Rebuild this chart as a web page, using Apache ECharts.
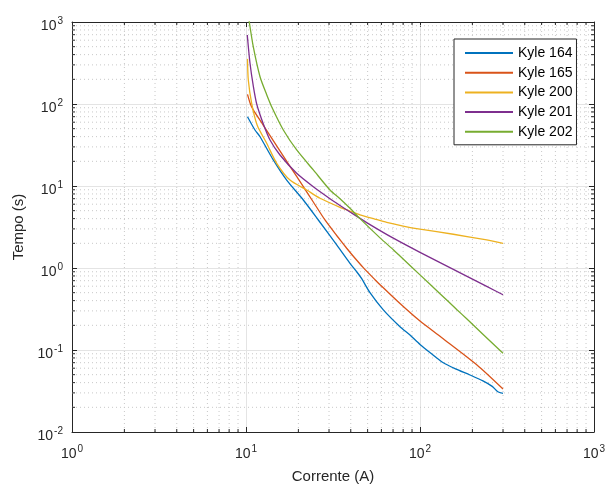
<!DOCTYPE html>
<html>
<head>
<meta charset="utf-8">
<script src="https://cdn.jsdelivr.net/npm/echarts@6/dist/echarts.min.js"></script>
<style>html,body{margin:0;padding:0;background:#fff}#c{width:609px;height:488px}</style>
</head>
<body>
<div id="c"></div>
<script>
// ---- data ----
const seriesNames = ['Kyle 164', 'Kyle 165', 'Kyle 200', 'Kyle 201', 'Kyle 202'];

const x164 = [10.2, 11.26, 12.04, 14.35, 17.13, 21.35, 26.04, 33.21, 39.6, 43.27, 46.24, 51.59, 61.54, 76.74, 87.61, 100, 115, 136.1, 160, 193.8, 230, 260, 280, 300];
const y164 = [70, 48.2, 39.9, 20.8, 11.8, 6.75, 3.85, 1.91, 1.14, 0.9, 0.74, 0.5, 0.308, 0.192, 0.152, 0.117, 0.092, 0.07, 0.059, 0.0496, 0.042, 0.036, 0.031, 0.0296];

const x165 = [10.2, 10.6, 11.01, 12.58, 15.01, 17.9, 21.35, 24.37, 28.44, 33.21, 37.91, 41.37, 47.22, 55.12, 58.91, 76.74, 100, 133, 211.8, 300];
const y165 = [131, 100, 84.6, 55, 30.9, 17.4, 9.84, 6.38, 3.85, 2.49, 1.74, 1.39, 1.01, 0.72, 0.626, 0.368, 0.225, 0.142, 0.066, 0.0334];

const x200 = [10.2, 10.31, 10.78, 11.6, 13.15, 15.01, 17.9, 22.33, 26.63, 34.69, 39.6, 45.21, 55, 64.38, 80, 100, 155.4, 241.7, 300];
const y200 = [355, 196, 102, 55, 33.2, 18.9, 11.8, 8.93, 7.08, 5.5, 4.95, 4.45, 3.95, 3.6, 3.25, 2.98, 2.58, 2.2, 2.0];

const x201 = [10.17, 10.54, 11.01, 11.52, 12.58, 13.74, 15.68, 19.56, 24.37, 30.39, 34.69, 39.6, 49.39, 70.26, 100, 155.4, 241.7, 300];
const y201 = [694, 316, 166, 100, 57, 36.4, 23.9, 14.3, 9.8, 7.0, 5.79, 4.82, 3.58, 2.31, 1.55, 0.96, 0.596, 0.472];

const x202 = [10.2, 10.4, 11.01, 12.04, 13.15, 14.2, 16.39, 19.56, 24.37, 30.39, 34.69, 39.6, 45.21, 58.91, 70.26, 76.74, 100, 130.3, 162.5, 185.5, 300];
const y202 = [1400, 1057, 500, 215, 130, 88, 48.2, 27.5, 15.7, 8.93, 7.0, 5.35, 4.0, 2.33, 1.67, 1.4, 0.825, 0.486, 0.312, 0.24, 0.0912];

const xMin = 1, xMax = 1000, yMin = 0.01, yMax = 1000;
const xDecades = [1, 10, 100];
const yDecades = [0.01, 0.1, 1, 10, 100];
const minorSteps = [2, 3, 4, 5, 6, 7, 8, 9];

// ---- build ----
const colors = ['#0072BD', '#D95319', '#EDB120', '#7E2F8E', '#77AC30'];
const xsAll = [x164, x165, x200, x201, x202];
const ysAll = [y164, y165, y200, y201, y202];

const xMinor = [], yMinor = [];
xDecades.forEach(d => minorSteps.forEach(k => xMinor.push([+(d * k).toPrecision(6), 1])));
yDecades.forEach(d => minorSteps.forEach(k => yMinor.push([1, +(d * k).toPrecision(6)])));

const FONT = '"Liberation Sans", Arial, Helvetica, sans-serif';
const AX = '#262626';

function expLabel(v) {
  const e = Math.round(Math.log10(v));
  return '{b|10}{e|' + e + '}';
}
const richLab = {
  b: { fontSize: 14, fontFamily: FONT, color: AX, verticalAlign: 'bottom' },
  e: { fontSize: 10, fontFamily: FONT, color: AX, verticalAlign: 'bottom', padding: [0, 0, 7, 1] }
};

function minorRender(isX) {
  return function (params, api) {
    const v = isX ? api.value(0) : api.value(1);
    let a, b;
    if (isX) { a = api.coord([v, yMin]); b = api.coord([v, yMax]); }
    else { a = api.coord([xMin, v]); b = api.coord([xMax, v]); }
    const grid = { type: 'line', shape: { x1: a[0], y1: a[1], x2: b[0], y2: b[1] },
      style: { stroke: '#c8c8c8', lineWidth: 1, lineDash: [1, 3] } };
    const L = 3;
    let t1, t2;
    if (isX) {
      t1 = { x1: a[0], y1: a[1], x2: a[0], y2: a[1] - L };
      t2 = { x1: b[0], y1: b[1], x2: b[0], y2: b[1] + L };
    } else {
      t1 = { x1: a[0], y1: a[1], x2: a[0] + L, y2: a[1] };
      t2 = { x1: b[0], y1: b[1], x2: b[0] - L, y2: b[1] };
    }
    return { type: 'group', children: [grid,
      { type: 'line', shape: t1, style: { stroke: AX, lineWidth: 1 } },
      { type: 'line', shape: t2, style: { stroke: AX, lineWidth: 1 } }] };
  };
}

const series = [
  { type: 'custom', silent: true, renderItem: minorRender(true), data: xMinor, z: 1, clip: false, xAxisIndex: 0, yAxisIndex: 0 },
  { type: 'custom', silent: true, renderItem: minorRender(false), data: yMinor, z: 1, clip: false, xAxisIndex: 0, yAxisIndex: 0 }
];
seriesNames.forEach((n, i) => {
  series.push({
    name: n, type: 'line', symbol: 'none', showSymbol: false, smooth: 0.25, clip: true, z: 5,
    lineStyle: { color: colors[i], width: 1.3 }, itemStyle: { color: colors[i] },
    data: xsAll[i].map((x, j) => [x, ysAll[i][j]])
  });
});

function axisBase(extra) {
  return Object.assign({
    type: 'log', logBase: 10,
    axisLine: { show: true, onZero: false, lineStyle: { color: AX, width: 1 } },
    axisTick: { show: true, inside: true, length: 5, lineStyle: { color: AX, width: 1 } },
    minorTick: { show: false },
    splitLine: { show: false }
  }, extra);
}

const chart = echarts.init(document.getElementById('c'), null, { renderer: 'canvas' });
chart.setOption({
  animation: false,
  backgroundColor: '#ffffff',
  color: colors,
  grid: { left: 72, right: 15, top: 22, bottom: 56, containLabel: false, outerBoundsMode: 'none' },
  legend: {
    data: seriesNames, orient: 'vertical', left: 454, top: 39,
    itemWidth: 48, itemHeight: 14, itemGap: 5.7,
    padding: [7, 4, 6, 10],
    itemStyle: { opacity: 0 },
    backgroundColor: '#ffffff', borderColor: AX, borderWidth: 1, borderRadius: 0,
    textStyle: { fontSize: 14, fontFamily: FONT, color: '#000' }
  },
  xAxis: [
    axisBase({ min: xMin, max: xMax, position: 'bottom',
      name: 'Corrente (A)', nameLocation: 'middle', nameGap: 37,
      nameTextStyle: { fontSize: 15, fontFamily: FONT, color: AX },
      splitLine: { show: true, lineStyle: { color: '#e4e4e4', width: 1 } },
      axisLabel: { formatter: expLabel, rich: richLab, margin: 12 } }),
    axisBase({ min: xMin, max: xMax, position: 'top', axisLabel: { show: false } })
  ],
  yAxis: [
    axisBase({ min: yMin, max: yMax, position: 'left',
      name: 'Tempo (s)', nameLocation: 'middle', nameGap: 46, nameRotate: 90,
      nameTextStyle: { fontSize: 15, fontFamily: FONT, color: AX },
      splitLine: { show: true, lineStyle: { color: '#e4e4e4', width: 1 } },
      axisLabel: { formatter: expLabel, rich: richLab, margin: 9, padding: [5, 0, 0, 0] } }),
    axisBase({ min: yMin, max: yMax, position: 'right', axisLabel: { show: false } })
  ],
  series: series
});
</script>
</body>
</html>
